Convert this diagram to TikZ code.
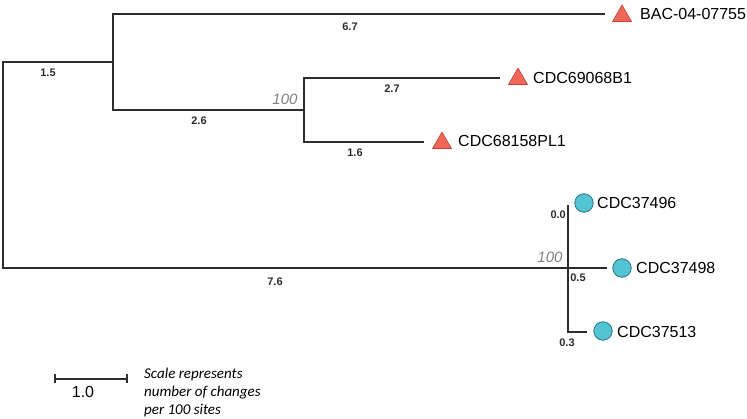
\documentclass[tikz,border=0pt]{standalone}
\usepackage{fontspec}
\setmainfont{Liberation Sans}
\newfontfamily\notefont{Carlito}
\usepackage{tikz}
\usetikzlibrary{shapes.geometric, arrows.meta}
\definecolor{branchc}{RGB}{45, 45, 45}
\definecolor{trifill}{RGB}{240, 102, 88}
\definecolor{tridraw}{RGB}{196, 68, 58}
\definecolor{dotfill}{RGB}{82, 196, 212}
\definecolor{dotdraw}{RGB}{38, 112, 132}
\definecolor{bootc}{RGB}{128, 128, 128}
\tikzset{
  branch/.style={draw=branchc, line width=1.3pt},
  scalebar/.style={draw=branchc, line width=1.8pt, {Bar[width=9pt]}-{Bar[width=9pt]}},
  trimark/.style={
    regular polygon, regular polygon sides=3, minimum size=22pt,
    inner sep=0pt, fill=trifill, draw=tridraw, line width=0.6pt
  },
  dotmark/.style={
    circle, minimum size=18.5pt, inner sep=0pt,
    fill=dotfill, draw=dotdraw, line width=0.8pt
  },
  leaflabel/.style={font=\fontsize{16}{18}\selectfont, inner sep=0pt, anchor=west},
  lenlabel/.style={font=\bfseries\fontsize{11}{12}\selectfont, text=branchc, inner sep=0pt},
  bootlabel/.style={font=\itshape\fontsize{15}{17}\selectfont, text=bootc, inner sep=0pt},
  notetext/.style={
    font=\notefont\itshape\fontsize{15}{18}\selectfont,
    align=left, inner sep=0pt, anchor=north west
  }
}

\begin{document}
\begin{tikzpicture}[x=1pt, y=-1pt]

  \useasboundingbox (0,0) rectangle (747,419);

  % Internal nodes of the tree
  \coordinate (n0) at (3,165);
  \coordinate (n1) at (113,62);
  \coordinate (n2) at (304,110);
  \coordinate (n3) at (568,268);

  % Branch tips
  \coordinate (bac-end) at (605,14);
  \coordinate (b1-end) at (500,78);
  \coordinate (b2-end) at (424,142);
  \coordinate (c1-end) at (568,205);
  \coordinate (c2-end) at (607,268);
  \coordinate (c3-end) at (587,332);

  % Leaf markers (triangles)
  \node[trimark] (bac) at (622,16) {};
  \node[trimark] (b1) at (518,79) {};
  \node[trimark] (b2) at (442,143) {};

  % Leaf markers (circles)
  \node[dotmark] (c1) at (584,203) {};
  \node[dotmark] (c2) at (622,268) {};
  \node[dotmark] (c3) at (603,331) {};

  % Leaf names
  \node[leaflabel] (bac-txt) at (640,14) {BAC-04-07755};
  \node[leaflabel] (b1-txt) at (533,78) {CDC69068B1};
  \node[leaflabel] (b2-txt) at (458,141) {CDC68158PL1};
  \node[leaflabel] (c1-txt) at (597,203) {CDC37496};
  \node[leaflabel] (c2-txt) at (636,268) {CDC37498};
  \node[leaflabel] (c3-txt) at (617,332) {CDC37513};

  % Branches
  \draw[branch] (n0) |- (n1);
  \draw[branch] (n0) |- (n3);
  \draw[branch] (n1) |- (bac-end);
  \draw[branch] (n1) |- (n2);
  \draw[branch] (n2) |- (b1-end);
  \draw[branch] (n2) |- (b2-end);
  \draw[branch] (n3) |- (c1-end);
  \draw[branch] (n3) |- (c2-end);
  \draw[branch] (n3) |- (c3-end);

  % Branch lengths
  \node[lenlabel] (l-n1) at (48,73) {1.5};
  \node[lenlabel] (l-bac) at (350,27) {6.7};
  \node[lenlabel] (l-n2) at (199,121) {2.6};
  \node[lenlabel] (l-b1) at (392,89) {2.7};
  \node[lenlabel] (l-b2) at (355,153) {1.6};
  \node[lenlabel] (l-n3) at (275,282) {7.6};
  \node[lenlabel, anchor=east] (l-c1) at (566,215) {0.0};
  \node[lenlabel] (l-c2) at (578,278) {0.5};
  \node[lenlabel] (l-c3) at (567,343) {0.3};

  % Bootstrap support
  \node[bootlabel] (s-n2) at (285,99) {100};
  \node[bootlabel] (s-n3) at (550,257) {100};

  % Scale
  \coordinate (sb-a) at (54,379);
  \coordinate (sb-b) at (128,379);
  \draw[scalebar] (sb-a) -- (sb-b);
  \node[font=\fontsize{16}{18}\selectfont, inner sep=0pt] (sb-txt) at (83,392) {1.0};
  \node[notetext] (note) at (144,368) {Scale represents\\number of changes\\per 100 sites};

\end{tikzpicture}
\end{document}
